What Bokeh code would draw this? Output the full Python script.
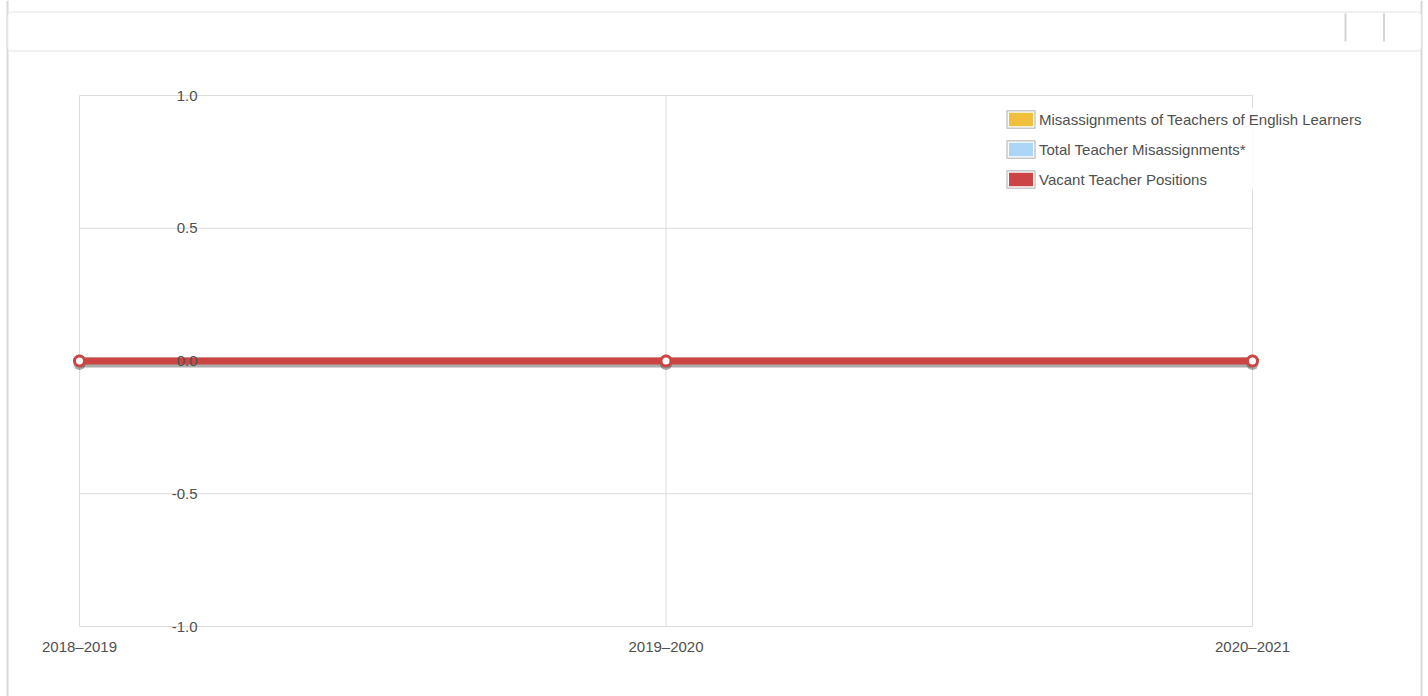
from bokeh.plotting import figure
from bokeh.models import (Range1d, FixedTicker, Legend, LegendItem, BoxAnnotation,
                          ColumnDataSource)
from bokeh.transform import dodge
from bokeh.embed import file_html
from bokeh.resources import INLINE

# ---------------- data ----------------
years = ["2018–2019", "2019–2020", "2020–2021"]
el_misassignments = [0, 0, 0]
total_misassignments = [0, 0, 0]
vacant_positions = [0, 0, 0]
series_names = ["Misassignments of Teachers of English Learners",
                "Total Teacher Misassignments*",
                "Vacant Teacher Positions"]
series_values = [el_misassignments, total_misassignments, vacant_positions]
series_colors = ["#f0c03c", "#acd6f6", "#cc4444"]
y_ticks = [-1.0, -0.5, 0.0, 0.5, 1.0]
y_tick_labels = ["-1.0", "-0.5", "0.0", "0.5", "1.0"]

# ---------------- layout constants ----------------
FONT = "Liberation Sans"
TXT = "#505050"
GRID = "#dcdcdc"
W, H = 1428, 696
X_FIRST_PX, X_LAST_PX = 79, 1252      # pixel columns of first / last category
Y_TOP_PX, Y_BOT_PX = 95, 626          # pixel rows of y max / y min
Y_LABEL_RIGHT_PX = 197                # right edge of the y tick labels

x = list(range(len(years)))
ymin, ymax = y_ticks[0], y_ticks[-1]
kx = (X_LAST_PX - X_FIRST_PX) / (x[-1] - x[0])
ky = (Y_BOT_PX - Y_TOP_PX) / (ymax - ymin)
x_start = x[0] - X_FIRST_PX / kx
x_end = x[0] + (W - X_FIRST_PX) / kx
y_end = ymax + Y_TOP_PX / ky
y_start = ymax - (H - Y_TOP_PX) / ky


def px_x(px):
    return x_start + px / kx


def px_y(py):
    return y_end - py / ky


p = figure(width=W, height=H, output_backend="svg", toolbar_location=None,
           x_range=Range1d(x_start, x_end), y_range=Range1d(y_start, y_end),
           min_border=0, min_border_left=0, min_border_right=0,
           min_border_top=0, min_border_bottom=0)
p.outline_line_color = None
p.background_fill_color = "white"
p.border_fill_color = "white"
p.grid.visible = False

# axes (labels pushed inside the frame)
p.xaxis.ticker = FixedTicker(ticks=x)
p.xaxis.major_label_overrides = {i: y for i, y in zip(x, years)}
p.yaxis.ticker = FixedTicker(ticks=y_ticks)
p.yaxis.major_label_overrides = {t: l for t, l in zip(y_ticks, y_tick_labels)}
for ax in (p.xaxis[0], p.yaxis[0]):
    ax.axis_line_color = None
    ax.major_tick_line_color = None
    ax.minor_tick_line_color = None
    ax.major_tick_out = 0
    ax.major_tick_in = 0
    ax.minor_tick_out = 0
    ax.major_label_text_font = FONT
    ax.major_label_text_font_size = "15px"
    ax.major_label_text_color = TXT
p.xaxis.major_label_standoff = -(H - 637)
p.yaxis.major_label_standoff = -Y_LABEL_RIGHT_PX

# page decorations: outer container sides + header bar
deco = dict(fill_alpha=1, level="underlay")
p.add_layout(BoxAnnotation(left=px_x(6), right=px_x(8), top=px_y(0), bottom=px_y(H),
                           fill_color="#d8d8d8", line_alpha=0, **deco))
p.add_layout(BoxAnnotation(left=px_x(1420), right=px_x(1422), top=px_y(0), bottom=px_y(H),
                           fill_color="#d8d8d8", line_alpha=0, **deco))
p.add_layout(BoxAnnotation(left=px_x(7), right=px_x(1421), top=px_y(11.5), bottom=px_y(50.5),
                           fill_color="white", line_color="#d2d2d2", line_width=2,
                           border_radius=4, **deco))
for hx in (1345, 1383.5):
    p.add_layout(BoxAnnotation(left=px_x(hx - 1), right=px_x(hx + 1), top=px_y(13),
                               bottom=px_y(41), fill_color="#d4d4d4", line_alpha=0, **deco))

# grid lines (frame-limited, from tick arrays)
p.segment(x0=[x[0]] * len(y_ticks), x1=[x[-1]] * len(y_ticks), y0=y_ticks, y1=y_ticks,
          line_color=GRID, line_width=1)
p.segment(x0=x, x1=x, y0=[ymin] * len(x), y1=[ymax] * len(x),
          line_color=GRID, line_width=1)

# series
for vals, col in zip(series_values, series_colors):
    src = ColumnDataSource(dict(x=x, y=vals))
    p.line(x="x", y=dodge("y", -3 / ky), source=src, line_color="black",
           line_alpha=0.12, line_width=7)
    p.line(x="x", y="y", source=src, line_color=col, line_width=7)
    p.scatter(x="x", y=dodge("y", -3 / ky), source=src, size=12,
              fill_color="black", fill_alpha=0.12, line_alpha=0)
    p.scatter(x="x", y="y", source=src, size=10, fill_color="white",
              line_color=col, line_width=3)

# legend with square swatches (hidden proxy renderers)
items = []
for name, vals, col in zip(series_names, series_values, series_colors):
    proxy = ColumnDataSource(dict(left=x[:1], right=x[:1], top=vals[:1], bottom=vals[:1]))
    r_fill = p.quad(left="left", right="right", top="top", bottom="bottom",
                    source=proxy, fill_color=col, line_color="white", line_width=4)
    r_border = p.quad(left="left", right="right", top="top", bottom="bottom",
                      source=proxy, fill_alpha=0, line_color="#c8c8c8", line_width=1.5)
    r_fill.visible = False
    r_border.visible = False
    items.append(LegendItem(label=name, renderers=[r_fill, r_border]))

legend = Legend(items=items, location=(1003, H - 190), glyph_width=35, glyph_height=22,
                label_height=22, spacing=8, label_standoff=1, padding=0, margin=0,
                border_line_color=None, background_fill_color="white",
                background_fill_alpha=0.85, label_text_font=FONT,
                label_text_font_size="15px", label_text_color=TXT)
p.add_layout(legend)

open("out.html", "w").write(file_html(p, INLINE))
